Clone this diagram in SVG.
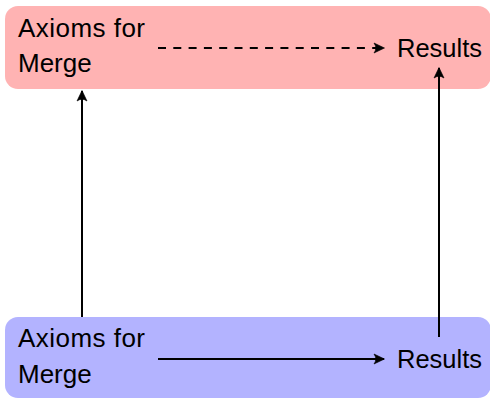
<svg xmlns="http://www.w3.org/2000/svg" width="490" height="399" viewBox="0 0 490 399">
  <style>
    .lbl { font-family: "Liberation Sans", Arial, sans-serif; font-size: 26px; fill: #000; }
    .edge { stroke: #000; stroke-width: 2; fill: none; marker-end: url(#tip); }
    .dash { stroke-dasharray: 8 7.3; }
  </style>
  <defs>
    <!-- concave filled arrow tip -->
    <marker id="tip" markerUnits="userSpaceOnUse" viewBox="-11 -6 12 12" markerWidth="12" markerHeight="12" refX="0" refY="0" orient="auto">
      <path d="M 0.5,0 L -10,-5 Q -6.5,0 -10,5 Z" fill="#000" stroke="#000" stroke-width="0.6" stroke-linejoin="round"/>
    </marker>
  </defs>

  <!-- background panels -->
  <g id="top-panel">
    <rect x="5" y="6" width="486" height="83" rx="13" ry="13" fill="#FFB3B3"/>
  </g>
  <g id="bottom-panel">
    <rect x="5" y="317" width="486" height="81" rx="13" ry="13" fill="#B3B3FF"/>
  </g>

  <!-- nodes -->
  <g id="axioms-top">
    <text class="lbl" x="18" y="37" textLength="127" lengthAdjust="spacing">Axioms for</text>
    <text class="lbl" x="18" y="72">Merge</text>
  </g>
  <g id="results-top">
    <text class="lbl" x="397" y="57" textLength="85" lengthAdjust="spacingAndGlyphs">Results</text>
  </g>
  <g id="axioms-bottom">
    <text class="lbl" x="18" y="347" textLength="127" lengthAdjust="spacing">Axioms for</text>
    <text class="lbl" x="18" y="383">Merge</text>
  </g>
  <g id="results-bottom">
    <text class="lbl" x="397" y="368" textLength="85" lengthAdjust="spacingAndGlyphs">Results</text>
  </g>

  <!-- connectors -->
  <g id="connectors">
    <line class="edge dash" x1="158" y1="48" x2="384" y2="48"/>
    <line class="edge" x1="158" y1="359" x2="384" y2="359"/>
    <line class="edge" x1="82" y1="317" x2="82" y2="91"/>
    <line class="edge" x1="439" y1="337" x2="439" y2="68"/>
  </g>
</svg>
